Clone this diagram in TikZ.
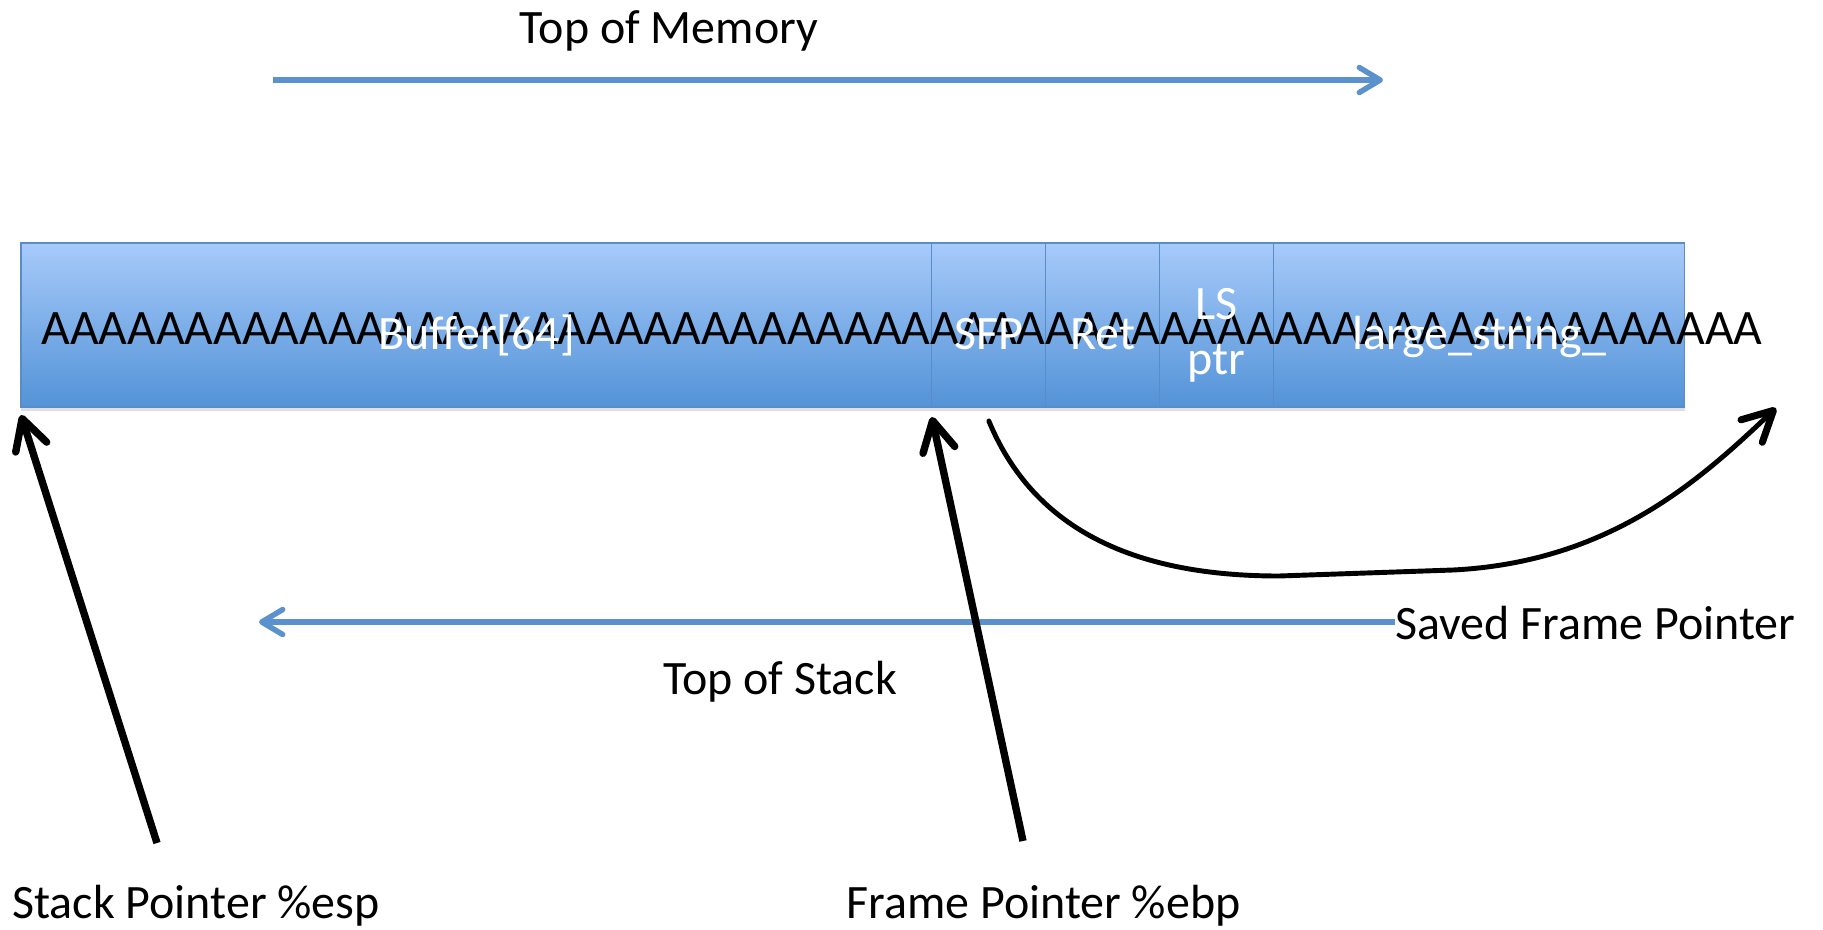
\documentclass[tikz,border=0pt]{standalone}
\usepackage{fontspec}
\setmainfont{Carlito}
\usetikzlibrary{positioning,arrows.meta,shadows}
\definecolor{celltop}{RGB}{167,202,250}
\definecolor{cellbot}{RGB}{83,147,215}
\definecolor{cellline}{RGB}{90,140,200}
\definecolor{memblue}{RGB}{91,145,204}
\newcommand{\lblfont}{\fontsize{27.3}{31.3}\selectfont}
\newcommand{\fillfont}{\fontsize{28.2}{32}\selectfont}

\begin{document}
\begin{tikzpicture}[x=0.02cm,y=-0.02cm,font=\lblfont,
  cell/.style={draw=cellline,line width=0.6pt,top color=celltop,bottom color=cellbot,
    minimum height=3.28cm,inner sep=0pt,outer sep=0pt,
    drop shadow={opacity=0.25,shadow xshift=0pt,shadow yshift=-0.08cm}},
  clbl/.style={text=white,align=center},
  txt/.style={inner sep=0pt},
  dirarrow/.style={draw=memblue,line width=3.1pt,-{Straight Barb[length=0.42cm,width=0.5cm,round]}},
  ptrarrow/.style={line width=4.2pt,-{Straight Barb[length=0.6cm,width=0.65cm,round]}}]
  \useasboundingbox (0,0) rectangle (1823,930);
  % the stack frame
  \node[cell,minimum width=18.22cm,anchor=north west] (buf) at (21,243) {};
  \node[cell,minimum width=2.28cm,right=0pt of buf] (sfp) {};
  \node[cell,minimum width=2.28cm,right=0pt of sfp] (ret) {};
  \node[cell,minimum width=2.28cm,right=0pt of ret] (lsp) {};
  \node[cell,minimum width=8.22cm,right=0pt of lsp] (str) {};
  \node[txt,anchor=base west,font=\fillfont] (fill) at (41,344)
       {AAAAAAAAAAAAAAAAAAAAAAAAAAAAAAAAAAAAAAAAAAAAAAAAAAAAAAAAAAAA};
  \node[clbl,anchor=base] (bufl) at ([yshift=-0.5cm]buf.center) {Buffer[64]};
  \node[clbl,anchor=base] (sfpl) at ([yshift=-0.5cm]sfp.center) {SFP};
  \node[clbl,anchor=base] (retl) at ([yshift=-0.5cm]ret.center) {Ret};
  \node[clbl] (lspl) at ([yshift=-0.2cm]lsp.center) {LS\\ptr};
  \node[clbl,anchor=base] (strl) at ([yshift=-0.5cm]str.center) {large\_string\_};
  % directions
  \node[txt,anchor=base] (mem) at (669,43) {Top of Memory};
  \coordinate (memfrom) at (273,80);
  \coordinate (memto) at (1383,80);
  \draw[dirarrow] (memfrom) -- (memto);
  \node[txt,anchor=base west] (saved) at (1395,639) {Saved Frame Pointer};
  \coordinate (stkto) at (259,622);
  \draw[dirarrow] (saved.west |- stkto) -- (stkto);
  \node[txt,anchor=base] (stk) at (780,694) {Top of Stack};
  % pointers
  \node[txt,anchor=base west] (esp) at (12,918) {Stack Pointer \%esp};
  \node[txt,anchor=base west] (ebp) at (846,918) {Frame Pointer \%ebp};
  \coordinate (esptail) at (157,843);
  \coordinate (ebptail) at (1023,841);
  \draw[ptrarrow] (esptail) -- ([yshift=-0.16cm]buf.south west);
  \draw[ptrarrow] (ebptail) -- ([yshift=-0.2cm]buf.south east);
  \coordinate (sfpdip) at (1279,576);
  \coordinate (sfpflat) at (1453,570);
  \coordinate (sfptip) at (1776,408);
  \draw[line width=2.8pt,line cap=round,
        -{Straight Barb[length=0.6cm,width=0.62cm,round,line width=4pt]}]
    ([yshift=-0.28cm]sfp.south) .. controls (1030,520) and (1120,576) .. (sfpdip)
    -- (sfpflat) .. controls (1610,562) and (1700,480) .. (sfptip);
\end{tikzpicture}
\end{document}
